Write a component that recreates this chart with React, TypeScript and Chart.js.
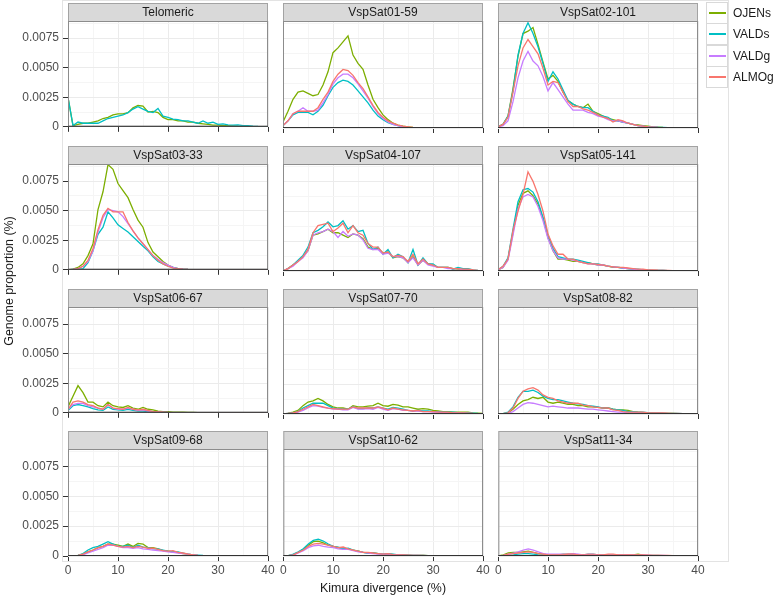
import React, { useEffect, useRef } from "react";
import { Chart, registerables } from "chart.js";

Chart.register(...registerables);

// ---------- data (genome proportion in units of 1e-4, i.e. 0.0001) ----------
const KIMURA = [0,1,2,3,4,5,6,7,8,9,10,11,12,13,14,15,16,17,18,19,20,21,22,23,24,25,26,27,28,29,30,31,32,33,34,35,36,37,38,39,40];
const GRID_X = [0,5,10,15,20,25,30,35,40];
const X_TICKS = [0,10,20,30,40];
const GRID_Y = [0,12.5,25,37.5,50,62.5,75,87.5];
const Y_TICKS = [0,25,50,75];
const Y_TICK_LABELS = ["0","0.0025","0.0050","0.0075"];
const Y_MAX = 89.5;

const SAMPLES = ["OJENs","VALDs","VALDg","ALMOg"];
const COLORS = ["#7CAE00","#00BFC4","#C77CFF","#F8766D"];
const FACETS = ["Telomeric","VspSat01-59","VspSat02-101","VspSat03-33","VspSat04-107","VspSat05-141","VspSat06-67","VspSat07-70","VspSat08-82","VspSat09-68","VspSat10-62","VspSat11-34"];

const TEL_OJENS = [25,1,2,3,3,4,5,7,8,10, 11,11,12,16,18,17.5,12.5,13,12,8, 6,6,5,5,4,4,3,2.5,2,1.5, 1.5,1,1,0.8,0.5,0.3,0.2,0.1,0,0, 0];
const TEL_VALDS = [25,1,4,3,3,3,3,5,7,8, 9,10,12,15,17,15,13,12,15.5,9, 8,6.5,6,5,5,4,3,5,3,4, 2,2.5,1.7,1.5,1.7,1,1,0.5,0.3,0.2, 0];

const S01_OJENS = [5,14,24,30,31,29,27,28,36,47, 63,67,72,77,61,54,49,36,24,17, 11,7,4,2.5,1.5,1,0.5,0.3,0.2,0.1, 0,0,0,0,0,0,0,0,0,0, 0];
const S01_VALDS = [2,6,11,13,13,13,11,14,19,27, 34,38,40,39,36,31,26,21,15,10, 7,4.5,3,2,1,0.5,0.3,0.2,0.1,0, 0,0,0,0,0,0,0,0,0,0, 0];
const S01_VALDG = [2,6,12,14,17,14,14,15,21,28, 37,42,45,45,42,37,31,25,18,12, 8,5,3,2,1,0.5,0.3,0.2,0.1,0, 0,0,0,0,0,0,0,0,0,0, 0];
const S01_ALMOG = [2,6,12,14,14,14,14,17,24,30, 39,45,49,48,44,38,33,26,19,13, 9,6,4,2.5,1.5,1,0.5,0.3,0.2,0.1, 0,0,0,0,0,0,0,0,0,0, 0];

const S02_OJENS = [1,3,10,33,60,79,81,84,70,55, 41,44,39,30,23,20,18,17,20,14, 12,10,8,7,6,5,4,3,2.5,2, 1.5,1,0.8,0.5,0.3,0.2,0.1,0,0,0, 0];
const S02_VALDS = [1,3,10,31,61,79,88,79,68,54, 39,47,41,32,23,20,18,17,17,14, 11,10,9,6,6,5,4,3,2,1.5, 1,1,0.7,0.5,0.3,0.2,0.1,0,0,0, 0];
const S02_VALDG = [1,2,6,22,42,56,64,56,52,43, 31,38,32,26,20,15,15,15,13,12, 10,9,7,6,6,5,4,3,2,1.5, 1,0.8,0.5,0.3,0.2,0.1,0,0,0,0, 0];
const S02_ALMOG = [1,3,9,30,52,67,74,68,62,50, 36,39,38,30,22,18,18,16,15,13, 11,9,8,5,7,6,4,3,2,1.5, 1,0.8,0.5,0.3,0.2,0.1,0,0,0,0, 0];

const S03_OJENS = [0,0.5,2,5,12,22,51,66,89,85, 73,67,61,51,42,36,23,15,11,7, 4,2,1,0.5,0.3,0.2,0.1,0,0,0, 0,0,0,0,0,0,0,0,0,0, 0];
const S03_VALDS = [0,0.3,0.5,1,6,16,30,36,49,44, 38,35,32,28,24,20,16,11,7,5, 3,2,1,0.5,0.3,0.2,0.1,0,0,0, 0,0,0,0,0,0,0,0,0,0, 0];
const S03_VALDG = [0,0.3,1,3,7,16,32,44,51,50, 49,45,39,33,27,22,17,12,9,6, 4,2,1,0.5,0.3,0.2,0.1,0,0,0, 0,0,0,0,0,0,0,0,0,0, 0];
const S03_ALMOG = [0,0.3,1,3,8,18,34,46,52,49, 49,49,40,33,27,22,17,12,8,5, 3,1.5,1,0.5,0.3,0.2,0.1,0,0,0, 0,0,0,0,0,0,0,0,0,0, 0];

const S04_OJENS = [0,2,5,8,12,17,30,31,33,35, 32,32,30,28,31,30,27,20,18,19, 15,16,11,12,11,7,12,5,9,6, 5,3,3,3,2,1.5,1,1,0.5,0.3, 0];
const S04_VALDS = [0,2,5,9,13,20,32,34,37,41, 37,38,42,35,38,33,34,23,18,20, 14,18,11,14,12,7,18,5,11,6, 6,3,3,3,1.5,3,2,2,1,0.5, 0.3];
const S04_VALDG = [0,2,4,8,11,17,30,32,33,35, 33,28,33,29,31,30,26,19,18,18, 14,15,12,12,11,7,11,5,9,5, 4,3,3,2,2,2,1,1,0.5,0.3, 0];
const S04_ALMOG = [0,2,5,8,12,18,32,38,39,40, 33,36,40,32,38,32,30,23,20,20, 15,16,12,13,12,8,14,6,10,6, 5,3,3,3,2,2,1.5,1.5,1,0.5, 0.3];

const S05_OJENS = [1,3,10,32,55,65,67,63,56,44, 28,17,10,10,9,8,8,7,7,6, 5,5,4,3,3,2.5,2,1.5,1,1, 0.7,0.5,0.5,0.4,0.3,0.2,0.2,0.1,0.1,0, 0];
const S05_VALDS = [1,4,11,35,58,68,69,66,58,45, 30,19,12,11,10,10,9,8,7,6, 6,5,4,3.5,3,2.5,2,1.5,1.5,1, 1,0.5,0.5,0.4,0.3,0.2,0.2,0.1,0.1,0, 0];
const S05_VALDG = [1,3,9,30,52,62,64,62,54,42, 27,17,11,10,10,9,8,7,6,6, 5,5,4,3.5,3,2.5,2,1.5,1,1, 0.7,0.5,0.5,0.4,0.3,0.2,0.2,0.1,0.1,0, 0];
const S05_ALMOG = [1,4,10,34,50,64,83,75,64,50, 31,21,14,14,10,10,8,7,6,6, 5.5,5,4,3.5,3,3,2.5,2,1.5,1.5, 1,1,0.7,0.5,0.5,0.3,0.2,0.2,0.1,0.1, 0];

const S06_OJENS = [5,14,23,17,9,9,6,5,9,6, 5,4.5,6,4,3,4.5,3,2.5,1.5,1, 1,0.5,0.5,0.5,0.3,0.3,0.2,0.2,0.1,0.1, 0,0,0,0,0,0,0,0,0,0, 0];
const S06_VALDS = [2,6,7,6,5,3.5,2.5,2,5,3, 2.5,2,3,2,1.5,1.5,1,0.5,0.3,0.2, 0.1,0,0,0,0,0,0,0,0,0, 0,0,0,0,0,0,0,0,0,0, 0];
const S06_VALDG = [3,7,8,8,6,5,4,3,7,4, 3,3,4,3,2,2.5,1.5,1,0.5,0.5, 0.3,0.2,0.1,0,0,0,0,0,0,0, 0,0,0,0,0,0,0,0,0,0, 0];
const S06_ALMOG = [3,9,10,9,7,6,4,3,7,4, 3.5,3,4.5,3,2.5,3,2,1,1,0.5, 0.3,0.2,0.1,0,0,0,0,0,0,0, 0,0,0,0,0,0,0,0,0,0, 0];

const S07_OJENS = [0,0.5,1.5,3,7,10,11,13,11,8, 6,5,5,4,7,6,6,6.5,7,9, 7,6.5,8,7.5,6,6,5,4,4.5,4, 3,2.5,2,2,1.5,1.5,1.5,1.5,1,0.8, 0.5];
const S07_VALDS = [0,0.5,1,2,5,7,9,9,9,7, 5,4.5,4,4,6,4.5,4.5,5,5,6, 5,4,5.5,5,4,3,2.5,3,2.5,2.5, 2,2,1.5,1.5,1.5,1.2,1,1,0.8,0.5, 0.3];
const S07_VALDG = [0,0.3,0.8,1.5,3,5,7,6.5,5.5,5, 4,4,3.5,3.5,5.5,4,4,4.5,4,5.5, 4,3,4.5,4,3,3,2.5,2.5,2,2, 1.5,1.5,1.2,1.2,1,1,0.8,0.6,0.4,0.3, 0.2];
const S07_ALMOG = [0,0.5,1,2,4,6,8,7,6,5, 4.5,4,4,4,6,5,5,5,5,6, 5,3.5,5,4,3.5,3,2.5,3,2,2, 2,1.5,1.5,1.5,1,1,1,0.8,0.5,0.3, 0.2];

const S08_OJENS = [0,0.3,1,4,8,11,12,14,13,14, 10,9,10,9,8,8,7,7,6,6, 5.5,5,5,4,3.5,3.5,3,2,1.5,1.2, 1,1,0.8,0.6,0.5,0.4,0.3,0.2,0.1,0.1, 0];
const S08_VALDS = [0,0.3,1.5,6,14,19,19,20,18,15, 13,12,12,11,10,9,8.5,8,7,6.5, 6,5,5,4,3.5,3,2,2,1.5,1.5, 1.2,1,1,0.8,0.6,0.5,0.4,0.3,0.2,0.1, 0];
const S08_VALDG = [0,0.2,0.5,2,5,8,9.5,9,8,7, 6,6.5,6,5.5,5,5,5,4.5,4,4, 3.5,3,2.5,2,1.5,1.5,1,1,1,0.8, 0.6,0.5,0.5,0.4,0.3,0.2,0.2,0.1,0.1,0, 0];
const S08_ALMOG = [0,0.3,1,5,13,19,21,22,20,16, 14,13,11,10,9,9,9,7.5,7,6, 5.5,5,5,3.5,3,2,1.5,1.5,1.5,1.5, 1,1,1,1,0.8,0.6,0.5,0.3,0.3,0.2, 0];

const S09_OJENS = [0,0,0.5,1.5,3.5,5,7,8,10,10, 9,8,10,8,10.5,10,7,7,6,4.5, 4,3.5,3,2,1.5,1,0.5,0.3,0.2,0.1, 0,0,0,0,0,0,0,0,0,0, 0];
const S09_VALDS = [0,0,0.5,2,5,7,8,10,12,10, 8,8,9,7,9,7.5,7,6,6,5, 4,3.5,3.5,2.5,1.5,1,0.8,0.5,0.3,0.2, 0.1,0,0,0,0,0,0,0,0,0, 0];
const S09_VALDG = [0,0,0.3,1,2.5,4,5.5,7,9,9, 8,7,7,6.5,7,6,5.5,5,4.5,4, 3.5,3,2.5,2,1.5,1,0.5,0.3,0.2,0.1, 0,0,0,0,0,0,0,0,0,0, 0];
const S09_ALMOG = [0,0,0.5,1.5,3.5,5,7,8,10,9, 8,7.5,8,7,8,7.5,6.5,6.5,5.5,4.5, 4,4.5,3,2.5,1.5,1,0.5,0.3,0.2,0.1, 0,0,0,0,0,0,0,0,0,0, 0];

const S10_OJENS = [0,0.3,1.2,3,5.5,9,12,12.5,11,9, 8,7,6,6,5,4,3,2.5,2.5,2, 1.5,1.5,1.2,1,1,0.8,0.6,0.5,0.4,0.3, 0.3,0.2,0.2,0.2,0.1,0.1,0.1,0.1,0.1,0.1, 0.1];
const S10_VALDS = [0,0.3,1.5,3.5,6,10,13,14,12.5,10, 8,7.5,6,6.5,5,4,3,2.5,2.5,2, 1.5,2,1.5,1,1,0.8,0.6,0.5,0.4,0.3, 0.3,0.2,0.2,0.2,0.1,0.1,0.1,0.1,0.1,0.1, 0.1];
const S10_VALDG = [0,0.2,0.8,2.5,4.5,7,8.5,9,8,7.5, 7,6,5.5,5.5,4.5,3.5,3,2.5,2,1.5, 1.5,1.5,1,1,0.8,0.6,0.5,0.4,0.3,0.3, 0.2,0.2,0.2,0.1,0.1,0.1,0.1,0.1,0.1,0.1, 0.1];
const S10_ALMOG = [0,0.3,1,3,5,8,10,10.5,10,9, 8,7,7.5,6,5,4,3,3,2.5,2, 1.5,2,1.2,1,1,0.8,0.6,0.5,0.4,0.3, 0.3,0.2,0.2,0.2,0.1,0.1,0.1,0.1,0.1,0.1, 0.1];

const S11_OJENS = [0,1,2.5,3,3,3.5,4,3,2,1.5, 1,1,1,1.5,1.5,1.5,1,1,1.5,1.5, 1,1,1,1,1,1,1,1,1.5,0.8, 0.5,0.5,0.5,0.3,0.3,0.3,0.2,0.2,0.1,0, 0];
const S11_VALDS = [0,0.3,0.8,1,1.5,2,2,1.5,1,0.8, 0.5,0.5,0.5,0.8,1,1,0.8,0.5,0.5,0.5, 0.5,0.5,0.5,0.5,0.5,0.5,0.3,0.2,0.2,0.1, 0.1,0,0,0,0,0,0,0,0,0, 0];
const S11_VALDG = [0,0.5,1.5,2.5,3.5,5,6,5,3.5,2, 1.5,1.5,1.5,1.5,1.5,2,1.5,1,1.5,1.5, 1,1,1,1,1,1,1,1,0.8,1, 0.8,0.5,0.5,0.5,0.3,0.3,0.3,0.2,0.1,0, 0];
const S11_ALMOG = [0,0.5,1.5,2,2.5,3,3.5,3,2,1.5, 1,1,1,1,1.5,1.5,1,1,1,1, 1,1,1.5,1.5,1,1,1,1,1,1, 0.8,0.5,0.5,0.5,0.5,0.3,0.3,0.2,0.1,0, 0];

// series per facet, in SAMPLES order (null = not present)
const FACET_SERIES: (number[] | null)[][] = [
  [TEL_OJENS, TEL_VALDS, null, null],
  [S01_OJENS, S01_VALDS, S01_VALDG, S01_ALMOG],
  [S02_OJENS, S02_VALDS, S02_VALDG, S02_ALMOG],
  [S03_OJENS, S03_VALDS, S03_VALDG, S03_ALMOG],
  [S04_OJENS, S04_VALDS, S04_VALDG, S04_ALMOG],
  [S05_OJENS, S05_VALDS, S05_VALDG, S05_ALMOG],
  [S06_OJENS, S06_VALDS, S06_VALDG, S06_ALMOG],
  [S07_OJENS, S07_VALDS, S07_VALDG, S07_ALMOG],
  [S08_OJENS, S08_VALDS, S08_VALDG, S08_ALMOG],
  [S09_OJENS, S09_VALDS, S09_VALDG, S09_ALMOG],
  [S10_OJENS, S10_VALDS, S10_VALDG, S10_ALMOG],
  [S11_OJENS, S11_VALDS, S11_VALDG, S11_ALMOG],
];

// ---------- layout ----------
const FONT = "'Liberation Sans', Arial, Helvetica, sans-serif";
const COL_LEFT = [68, 283, 498];
const PANEL_TOP = [21, 164, 307, 449];
const PW = 200;
const PH = 107;
const STRIP_H = 18;
const LEGEND_TOPS = [2, 23, 45, 66];
const KEY_H = 22;

const facetPlugin = {
  id: "facet",
  beforeDraw(chart: any, _args: any, opts: any) {
    const { ctx, chartArea: a } = chart;
    ctx.save();
    const w = a.right - a.left;
    ctx.fillStyle = "#d9d9d9";
    ctx.fillRect(a.left, a.top - STRIP_H, w, STRIP_H);
    ctx.strokeStyle = "#a3a3a3";
    ctx.lineWidth = 1;
    ctx.strokeRect(a.left + 0.5, a.top - STRIP_H + 0.5, w - 1, STRIP_H);
    ctx.fillStyle = "#1a1a1a";
    ctx.font = "12px " + FONT;
    ctx.textAlign = "center";
    ctx.textBaseline = "middle";
    ctx.fillText(opts.title, a.left + w / 2, a.top - STRIP_H / 2 + 0.5);
    ctx.restore();
  },
  afterDatasetsDraw(chart: any) {
    const { ctx, chartArea: a } = chart;
    ctx.save();
    ctx.strokeStyle = "#8c8c8c";
    ctx.lineWidth = 1;
    ctx.strokeRect(a.left + 0.5, a.top + 0.5, a.right - a.left - 1, a.bottom - a.top - 1);
    ctx.strokeStyle = "#333333";
    ctx.beginPath();
    ctx.moveTo(a.left, a.bottom - 0.5);
    ctx.lineTo(a.right, a.bottom - 0.5);
    ctx.stroke();
    ctx.restore();
  },
};

function Panel({ idx }: { idx: number }) {
  const ref = useRef<HTMLCanvasElement>(null);
  const col = idx % 3;
  const row = Math.floor(idx / 3);
  const isBottom = row === 3;
  const L = col === 0 ? 68 : 5;
  const R = 10;
  const T = 20;
  const B = isBottom ? 26 : 10;
  const left = COL_LEFT[col] - L;
  const top = PANEL_TOP[row] - T;
  const width = L + PW + R;
  const height = T + PH + B;

  useEffect(() => {
    if (!ref.current) return;
    const series = FACET_SERIES[idx];
    const datasets: any[] = [];
    for (let s = 0; s < SAMPLES.length; s++) {
      const d = series[s];
      if (!d) continue;
      datasets.push({
        label: SAMPLES[s],
        data: d.map((v, i) => ({ x: KIMURA[i], y: v })),
        borderColor: COLORS[s],
        backgroundColor: COLORS[s],
        borderWidth: 1.3,
        pointRadius: 0,
        tension: 0,
        fill: false,
        order: SAMPLES.length - s,
      });
    }
    const chart = new Chart(ref.current, {
      type: "line",
      data: { datasets },
      plugins: [facetPlugin],
      options: {
        animation: false,
        responsive: false,
        maintainAspectRatio: false,
        devicePixelRatio: 1,
        events: [],
        layout: { padding: { top: T, right: R, left: 0, bottom: 0 } },
        plugins: {
          legend: { display: false },
          tooltip: { enabled: false },
          facet: { title: FACETS[idx] },
        } as any,
        scales: {
          x: {
            type: "linear",
            min: 0,
            max: 40,
            afterBuildTicks: (s: any) => {
              s.ticks = GRID_X.map((v) => ({ value: v }));
            },
            afterFit: (s: any) => {
              s.height = B;
            },
            border: { display: false },
            grid: {
              color: (c: any) => (X_TICKS.includes(c.tick?.value) ? "#ebebeb" : "#f5f5f5"),
              lineWidth: 1,
              drawTicks: true,
              tickLength: 5,
              tickColor: (c: any) => (X_TICKS.includes(c.tick?.value) ? "#333333" : "rgba(0,0,0,0)"),
            },
            ticks: {
              display: isBottom,
              autoSkip: false,
              maxRotation: 0,
              padding: 2,
              color: "#4d4d4d",
              font: { family: FONT, size: 12 },
              callback: (v: any) => (X_TICKS.includes(v) ? String(v) : ""),
            },
          },
          y: {
            type: "linear",
            min: 0,
            max: Y_MAX,
            afterBuildTicks: (s: any) => {
              s.ticks = GRID_Y.map((v) => ({ value: v }));
            },
            afterFit: (s: any) => {
              s.width = L;
            },
            border: { display: false },
            grid: {
              color: (c: any) => (Y_TICKS.includes(c.tick?.value) ? "#ebebeb" : "#f5f5f5"),
              lineWidth: 1,
              drawTicks: col === 0,
              tickLength: 5,
              tickColor: (c: any) => (Y_TICKS.includes(c.tick?.value) ? "#333333" : "rgba(0,0,0,0)"),
            },
            ticks: {
              display: col === 0,
              autoSkip: false,
              padding: 4,
              color: "#4d4d4d",
              font: { family: FONT, size: 12 },
              callback: (v: any) => {
                const k = Y_TICKS.indexOf(v);
                return k >= 0 ? Y_TICK_LABELS[k] : "";
              },
            },
          },
        },
      } as any,
    });
    return () => chart.destroy();
  }, [idx]);

  return (
    <canvas
      ref={ref}
      width={width}
      height={height}
      style={{ position: "absolute", left, top, width, height }}
    />
  );
}

function Legend() {
  return (
    <div style={{ position: "absolute", left: 706, top: 0 }}>
      {SAMPLES.map((s, i) => (
        <div key={s} style={{ position: "absolute", left: 0, top: LEGEND_TOPS[i], height: KEY_H, width: 70 }}>
          <div
            style={{
              position: "absolute",
              left: 0,
              top: 0,
              width: 22,
              height: KEY_H,
              boxSizing: "border-box",
              border: "1px solid #d9d9d9",
              background: "#fff",
            }}
          >
            <div
              style={{
                position: "absolute",
                left: 2,
                top: 9,
                width: 17,
                height: 2,
                background: COLORS[i],
              }}
            />
          </div>
          <div
            style={{
              position: "absolute",
              left: 27,
              top: 0,
              lineHeight: KEY_H + "px",
              fontSize: 12,
              fontFamily: FONT,
              color: "#1a1a1a",
              whiteSpace: "nowrap",
            }}
          >
            {s}
          </div>
        </div>
      ))}
    </div>
  );
}

export default function App() {
  return (
    <div
      style={{
        position: "absolute",
        left: 0,
        top: 0,
        width: 774,
        height: 597,
        background: "#ffffff",
        overflow: "hidden",
        fontFamily: FONT,
      }}
    >
      <div
        style={{
          position: "absolute",
          left: 62,
          top: 0,
          width: 667,
          height: 562,
          boxSizing: "border-box",
          border: "1px solid #e3e3e3",
        }}
      />
      {FACETS.map((_, i) => (
        <Panel key={i} idx={i} />
      ))}
      <Legend />
      <div
        style={{
          position: "absolute",
          left: 283,
          top: 580,
          width: 200,
          textAlign: "center",
          fontSize: 12.4,
          lineHeight: "16px",
          color: "#1a1a1a",
          whiteSpace: "nowrap",
        }}
      >
        Kimura divergence (%)
      </div>
      <div
        style={{
          position: "absolute",
          left: 9 - 100,
          top: 281 - 8,
          width: 200,
          height: 16,
          textAlign: "center",
          fontSize: 12.4,
          lineHeight: "16px",
          color: "#1a1a1a",
          whiteSpace: "nowrap",
          transform: "rotate(-90deg)",
        }}
      >
        Genome proportion (%)
      </div>
    </div>
  );
}
